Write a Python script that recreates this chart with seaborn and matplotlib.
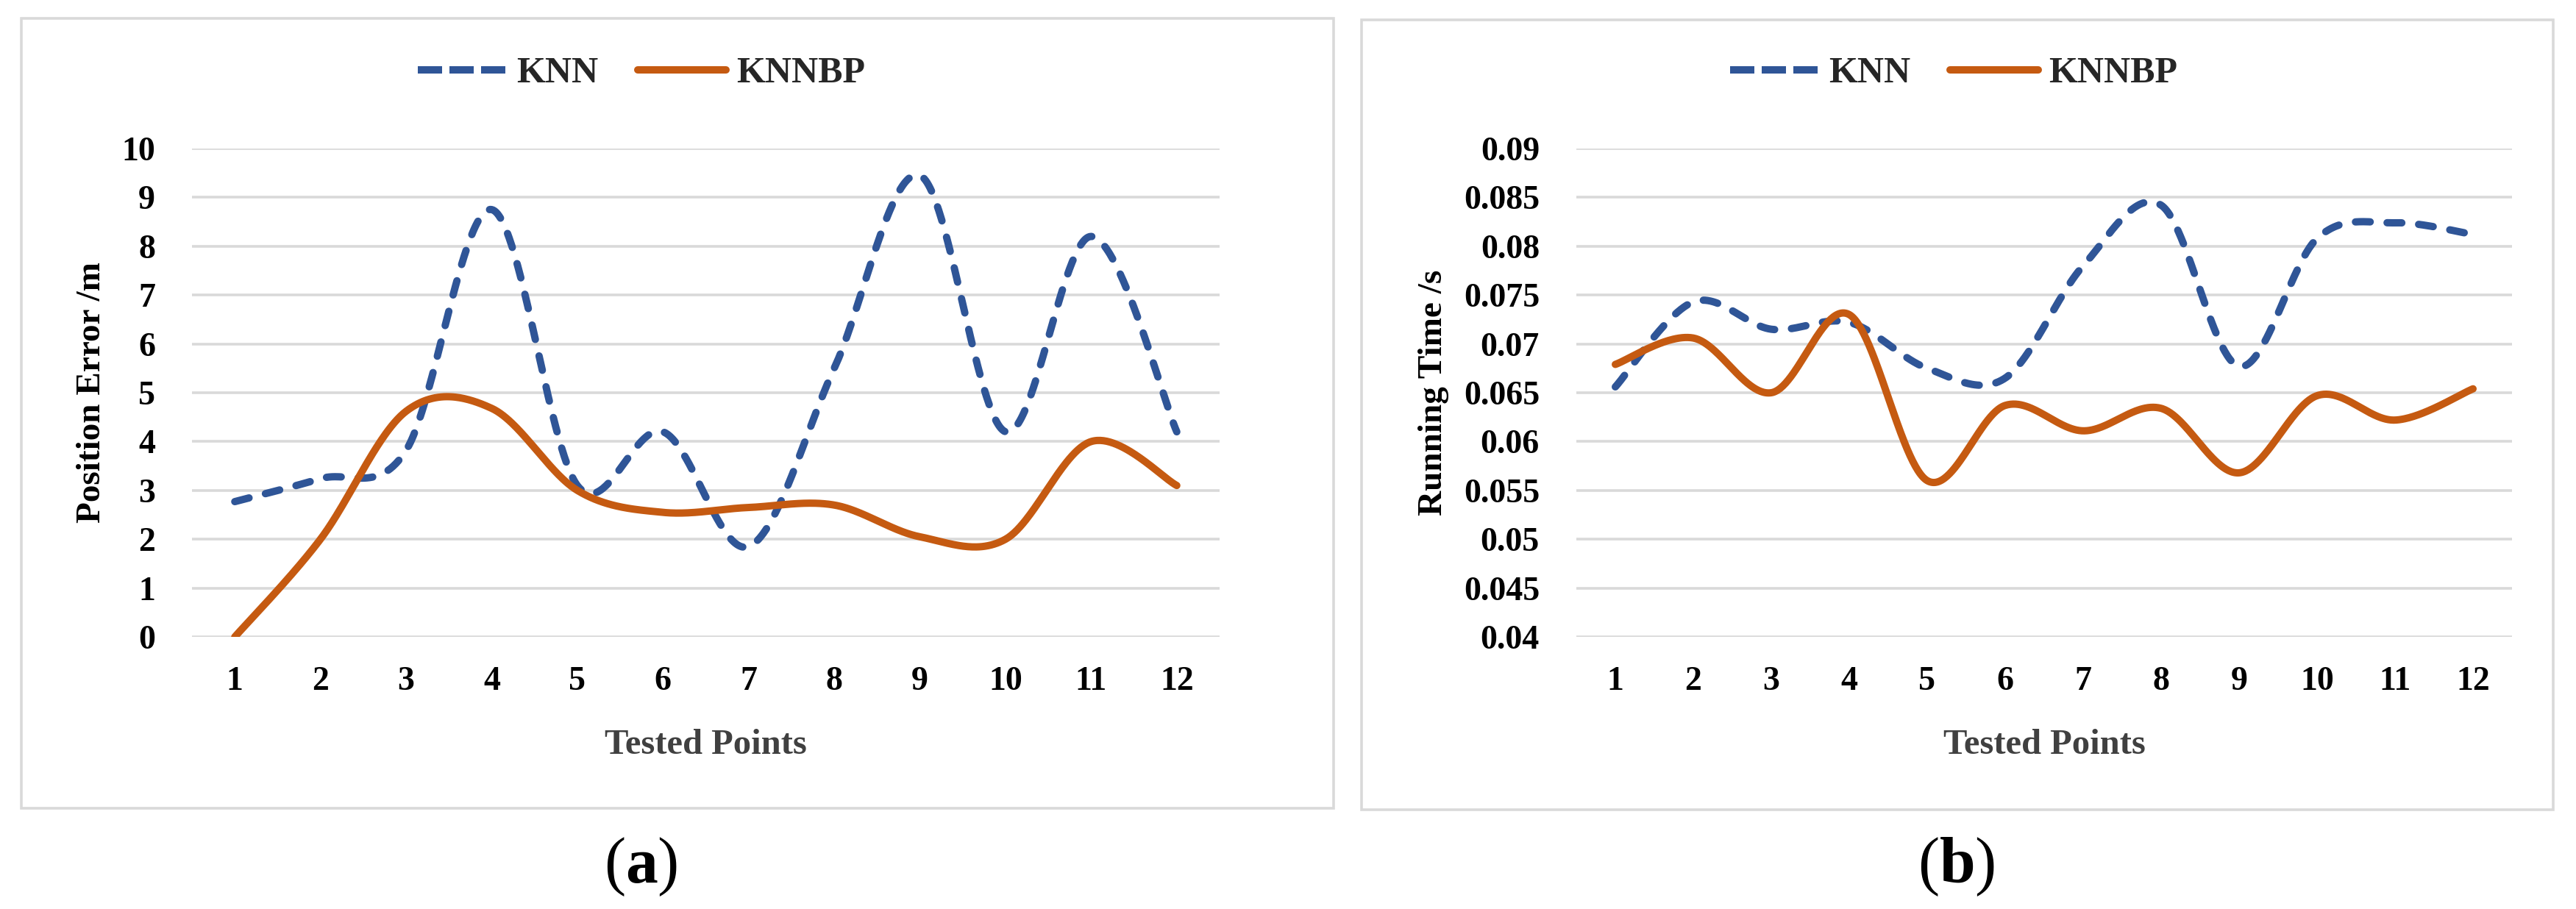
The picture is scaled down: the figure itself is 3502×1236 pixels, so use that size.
import numpy as np
import pandas as pd
import matplotlib
matplotlib.use("Agg")
import matplotlib.pyplot as plt
import seaborn as sns
from matplotlib.lines import Line2D
from matplotlib.patches import Rectangle

# ---------------- data ----------------
points = list(range(1, 13))
point_labels = [str(p) for p in points]
series_names = ["KNN", "KNNBP"]

err_knn = [2.77, 3.24, 3.82, 8.75, 3.1, 4.2, 1.85, 5.5, 9.45, 4.2, 8.2, 4.2]
err_knnbp = [0.0, 2.0, 4.62, 4.68, 3.0, 2.55, 2.65, 2.7, 2.05, 2.0, 4.0, 3.1]

time_knn = [0.0656, 0.0743, 0.0715, 0.0722, 0.0675, 0.0665, 0.078, 0.0842, 0.0677, 0.0808, 0.0824, 0.0812]
time_knnbp = [0.0679, 0.0706, 0.065, 0.073, 0.056, 0.0637, 0.0611, 0.0634, 0.0568, 0.0647, 0.0622, 0.0654]

err_ticks = [0, 1, 2, 3, 4, 5, 6, 7, 8, 9, 10]
err_tick_labels = ["0", "1", "2", "3", "4", "5", "6", "7", "8", "9", "10"]
time_ticks = [0.04, 0.045, 0.05, 0.055, 0.06, 0.065, 0.07, 0.075, 0.08, 0.085, 0.09]
time_tick_labels = ["0.04", "0.045", "0.05", "0.055", "0.06", "0.065", "0.07",
                    "0.075", "0.08", "0.085", "0.09"]

x_title = "Tested Points"
y_titles = ["Position Error /m", "Running Time /s"]
captions = ["a", "b"]

# ---------------- style ----------------
BLUE = "#2F5597"
ORANGE = "#C55A11"
GRID = "#D9D9D9"
W, H = 3502, 1236
DPI = 100

sns.set_theme(style="white")
plt.rcParams["font.family"] = ["Liberation Serif", "DejaVu Serif"]
plt.rcParams["mathtext.fontset"] = "custom"
plt.rcParams["mathtext.rm"] = "Liberation Serif"
plt.rcParams["mathtext.bf"] = "Liberation Serif:bold"

LW = 7.2


def smooth(xs, ys, n=60):
    """Excel-style smoothed line: cubic Bezier between consecutive points."""
    P = np.column_stack([np.asarray(xs, float), np.asarray(ys, float)])
    m = len(P)
    outx, outy = [], []
    t = np.linspace(0, 1, n)
    for i in range(m - 1):
        p0 = P[i]
        p3 = P[i + 1]
        pm = P[i - 1] if i > 0 else P[i]
        pp = P[i + 2] if i + 2 < m else P[i + 1]
        c1 = p0 + (p3 - pm) / 6.0
        c2 = p3 - (pp - p0) / 6.0
        b = ((1 - t) ** 3)[:, None] * p0 + (3 * (1 - t) ** 2 * t)[:, None] * c1 \
            + (3 * (1 - t) * t ** 2)[:, None] * c2 + (t ** 3)[:, None] * p3
        if i > 0:
            b = b[1:]
        outx.extend(b[:, 0])
        outy.extend(b[:, 1])
    return np.array(outx), np.array(outy)


fig = plt.figure(figsize=(W / DPI, H / DPI), dpi=DPI)


def px_axes(left, right, top, bottom):
    return fig.add_axes([left / W, 1 - bottom / H, (right - left) / W, (bottom - top) / H])


axA = px_axes(261, 1658, 202, 866)
axB = px_axes(2143, 3415, 202, 866)

panels = [
    dict(ax=axA, knn=err_knn, bp=err_knnbp, ticks=err_ticks, tl=err_tick_labels,
         ylim=(0, 10), ytitle=y_titles[0], ylab_x=136, left=261, right=1658,
         border=(29, 25, 1813, 1099), leg_x=568, cap_x=871, cap=captions[0]),
    dict(ax=axB, knn=time_knn, bp=time_knnbp, ticks=time_ticks, tl=time_tick_labels,
         ylim=(0.04, 0.09), ytitle=y_titles[1], ylab_x=1960, left=2143, right=3415,
         border=(1851, 27, 3471, 1101), leg_x=2352, cap_x=2660, cap=captions[1]),
]

for p in panels:
    ax = p["ax"]
    # gridlines
    for yv in p["ticks"]:
        ax.axhline(yv, color=GRID, lw=2.6, zorder=0)

    sx, sy = smooth(points, p["knn"])
    df_knn = pd.DataFrame({"x": sx, "y": sy})
    sns.lineplot(data=df_knn, x="x", y="y", ax=ax, sort=False, estimator=None,
                 color=BLUE, linewidth=LW, linestyle=(0, (2.0, 2.3)),
                 dash_capstyle="round", zorder=3)
    bx, by = smooth(points, p["bp"])
    df_bp = pd.DataFrame({"x": bx, "y": by})
    sns.lineplot(data=df_bp, x="x", y="y", ax=ax, sort=False, estimator=None,
                 color=ORANGE, linewidth=LW, solid_capstyle="round", zorder=4)

    ax.set_xlim(0.5, 12.5)
    ax.set_ylim(*p["ylim"])
    ax.set_xticks(points)
    ax.set_xticklabels(point_labels)
    ax.set_yticks(p["ticks"])
    ax.set_yticklabels(p["tl"])
    for s in ax.spines.values():
        s.set_visible(False)
    ax.tick_params(axis="both", length=0, labelsize=33, colors="black")
    ax.tick_params(axis="x", pad=29)
    ax.tick_params(axis="y", pad=36)
    for lab in ax.get_xticklabels() + ax.get_yticklabels():
        lab.set_fontweight("bold")
    ax.grid(False)
    ax.patch.set_alpha(0)

    ax.set_xlabel(x_title, fontsize=35, fontweight="bold", color="#404040", va="baseline")
    ax.xaxis.set_label_coords(0.5, -(1025 - 866) / 664)
    ax.set_ylabel(p["ytitle"], fontsize=34, fontweight="bold", color="black", va="baseline")
    ax.yaxis.set_label_coords((p["ylab_x"] - p["left"]) / (p["right"] - p["left"]), 0.5)

    # border around panel
    x0, y0, x1, y1 = p["border"]
    fig.add_artist(Rectangle((x0 / W, 1 - y1 / H), (x1 - x0) / W, (y1 - y0) / H,
                             transform=fig.transFigure, fill=False,
                             edgecolor=GRID, linewidth=2.6, zorder=0))

    # legend
    handles = [
        Line2D([], [], color=BLUE, lw=LW, linestyle=(0, (3.3, 1.0)), dash_capstyle="butt"),
        Line2D([], [], color=ORANGE, lw=LW, solid_capstyle="round"),
    ]
    fig.legend(handles, series_names, loc="center left",
               bbox_to_anchor=(p["leg_x"] / W, 1 - 100 / H),
               ncol=2, frameon=False, borderpad=0, borderaxespad=0,
               handlelength=2.4, handletextpad=0.28, columnspacing=1.08,
               prop={"family": "Liberation Serif", "weight": "bold", "size": 36})

    # caption
    fig.text(p["cap_x"] / W, 1 - 1200 / H, r"($\mathbf{%s}$)" % p["cap"],
             ha="center", va="baseline", fontsize=63, color="black")

fig.savefig("out.png", dpi=DPI, facecolor="white")
